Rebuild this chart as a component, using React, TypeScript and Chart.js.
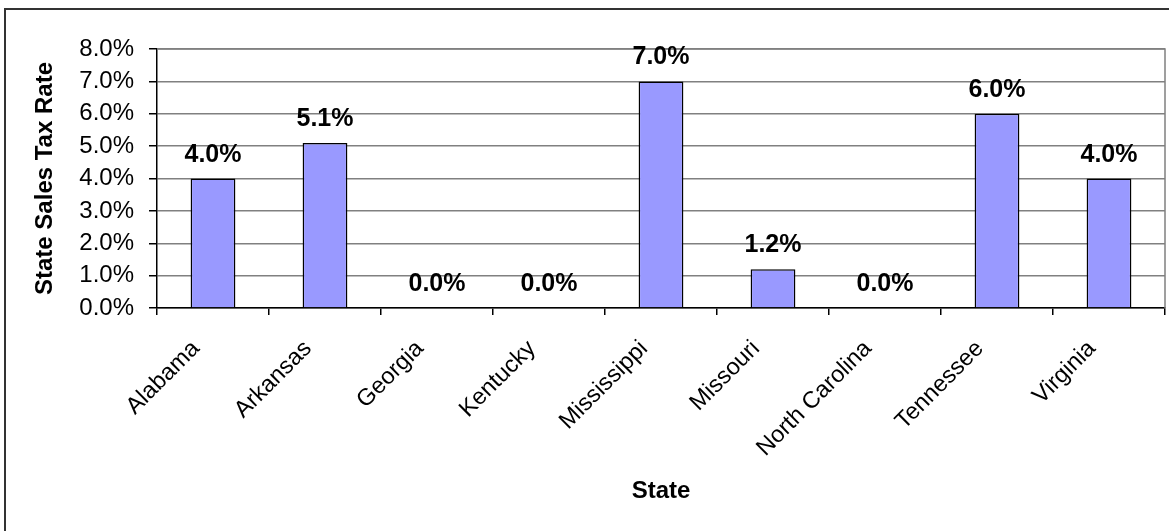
import React, { useEffect, useRef } from "react";
import { Chart, registerables } from "chart.js";

Chart.register(...registerables);

const states = [
  "Alabama",
  "Arkansas",
  "Georgia",
  "Kentucky",
  "Mississippi",
  "Missouri",
  "North Carolina",
  "Tennessee",
  "Virginia",
];
const taxRates = [4.0, 5.1, 0.0, 0.0, 7.0, 1.2, 0.0, 6.0, 4.0];
const yMin = 0;
const yMax = 8;
const yStep = 1;
const yAxisTitle = "State Sales Tax Rate";
const xAxisTitle = "State";

const FONT = "'Liberation Sans', Arial, Helvetica, sans-serif";

const frameAndLabels = {
  id: "frameAndLabels",
  beforeDraw(chart: any) {
    const { ctx, width, height } = chart;
    ctx.save();
    ctx.fillStyle = "#ffffff";
    ctx.fillRect(0, 0, width, height);
    ctx.strokeStyle = "#333333";
    ctx.lineWidth = 2;
    ctx.beginPath();
    ctx.moveTo(5, height + 5);
    ctx.lineTo(5, 9);
    ctx.lineTo(width + 5, 9);
    ctx.stroke();
    ctx.restore();
  },
  beforeDatasetsDraw(chart: any) {
    const { ctx, chartArea } = chart;
    ctx.save();
    ctx.strokeStyle = "#808080";
    ctx.lineWidth = 1.5;
    ctx.beginPath();
    ctx.moveTo(chartArea.left, chartArea.top);
    ctx.lineTo(chartArea.right, chartArea.top);
    ctx.lineTo(chartArea.right, chartArea.bottom);
    ctx.stroke();
    ctx.restore();
  },
  afterDatasetsDraw(chart: any) {
    const { ctx } = chart;
    const meta = chart.getDatasetMeta(0);
    const data = chart.data.datasets[0].data as number[];
    ctx.save();
    ctx.fillStyle = "#000000";
    ctx.font = `bold 25px ${FONT}`;
    ctx.textAlign = "center";
    ctx.textBaseline = "alphabetic";
    meta.data.forEach((bar: any, i: number) => {
      ctx.fillText(data[i].toFixed(1) + "%", bar.x, bar.y - 17);
    });
    ctx.restore();
  },
};

export default function App() {
  const canvasRef = useRef<HTMLCanvasElement | null>(null);

  useEffect(() => {
    document.body.style.margin = "0";
    const canvas = canvasRef.current;
    if (!canvas) return;
    const chart = new Chart(canvas, {
      type: "bar",
      data: {
        labels: states,
        datasets: [
          {
            data: taxRates,
            backgroundColor: "#9999FF",
            borderColor: "#000000",
            borderWidth: 1.5,
            categoryPercentage: 1,
            barPercentage: 0.4,
          },
        ],
      },
      options: {
        responsive: false,
        animation: false,
        devicePixelRatio: 1,
        layout: { padding: { top: 49, right: 4, left: 0, bottom: 0 } },
        plugins: {
          legend: { display: false },
          tooltip: { enabled: false },
        },
        scales: {
          x: {
            afterFit: (scale: any) => {
              scale.height = 223;
            },
            grid: {
              offset: true,
              drawOnChartArea: false,
              drawTicks: true,
              tickLength: 7,
              tickColor: "#000000",
              lineWidth: 1.5,
            },
            border: { color: "#000000", width: 1.5 },
            ticks: {
              color: "#000000",
              font: { family: FONT, size: 23.5 },
              minRotation: 45,
              maxRotation: 45,
              autoSkip: false,
              padding: 20,
              labelOffset: -17,
            },
            title: {
              display: true,
              text: xAxisTitle,
              color: "#000000",
              font: { family: FONT, size: 24, weight: "bold" },
              padding: { top: 0, bottom: 25.6 },
            },
          },
          y: {
            min: yMin,
            max: yMax,
            afterFit: (scale: any) => {
              scale.width = 157;
            },
            grid: {
              color: "#808080",
              lineWidth: 1.5,
              tickLength: 8,
              tickColor: "#000000",
            },
            border: { color: "#000000", width: 1.5 },
            ticks: {
              stepSize: yStep,
              color: "#000000",
              font: { family: FONT, size: 24 },
              padding: 15,
              callback: (v: any) => Number(v).toFixed(1) + "%",
            },
            title: {
              display: true,
              text: yAxisTitle,
              color: "#000000",
              font: { family: FONT, size: 24, weight: "bold" },
              padding: { top: 30.6, bottom: 0 },
            },
          },
        },
      },
      plugins: [frameAndLabels],
    });
    return () => chart.destroy();
  }, []);

  return (
    <div style={{ width: 1169, height: 531 }}>
      <canvas ref={canvasRef} width={1169} height={531} style={{ display: "block" }} />
    </div>
  );
}
